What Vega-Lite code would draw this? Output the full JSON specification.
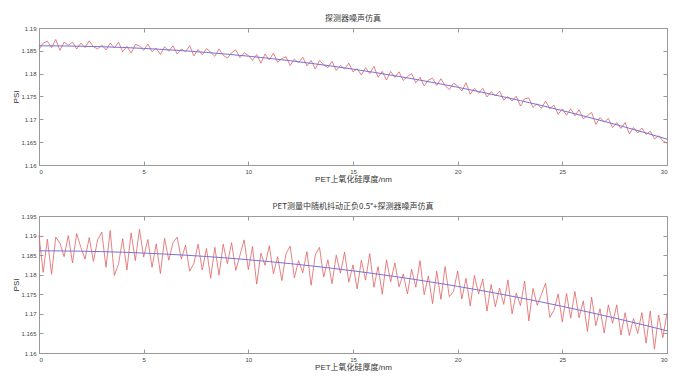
{
  "$schema": "https://vega.github.io/schema/vega-lite/v6.json",
  "padding": {"left": 12, "top": 14, "right": 15, "bottom": 2},
  "spacing": 18,
  "background": "white",
  "config": {
    "view": {"stroke": "#999999", "strokeWidth": 1},
    "axis": {"grid": false, "labelFontSize": 6, "labelColor": "#444444", "labelFont": "Liberation Sans", "titleFont": "Liberation Sans, Noto Sans CJK SC", "titleFontSize": 8, "titleFontWeight": "normal", "titleColor": "#333333", "domainColor": "#999999", "tickColor": "#999999", "tickSize": -4, "labelPadding": 7},
    "title": {"font": "Noto Sans CJK SC", "fontSize": 8, "fontWeight": "normal", "color": "#333333", "offset": 2}
  },
  "datasets": {
    "fit": [
      {"x": 0, "f": 1.1861}, {"x": 1, "f": 1.18608}, {"x": 2, "f": 1.18601}, {"x": 3, "f": 1.1859}, {"x": 4, "f": 1.18574},
      {"x": 5, "f": 1.18553}, {"x": 6, "f": 1.18528}, {"x": 7, "f": 1.18499}, {"x": 8, "f": 1.18465}, {"x": 9, "f": 1.18426},
      {"x": 10, "f": 1.18383}, {"x": 11, "f": 1.18335}, {"x": 12, "f": 1.18283}, {"x": 13, "f": 1.18226}, {"x": 14, "f": 1.18165},
      {"x": 15, "f": 1.18099}, {"x": 16, "f": 1.18029}, {"x": 17, "f": 1.17954}, {"x": 18, "f": 1.17875}, {"x": 19, "f": 1.17791},
      {"x": 20, "f": 1.17702}, {"x": 21, "f": 1.17609}, {"x": 22, "f": 1.17511}, {"x": 23, "f": 1.17409}, {"x": 24, "f": 1.17303},
      {"x": 25, "f": 1.17191}, {"x": 26, "f": 1.17075}, {"x": 27, "f": 1.16955}, {"x": 28, "f": 1.1683}, {"x": 29, "f": 1.16701},
      {"x": 30, "f": 1.16567}
    ],
    "noise": [
      {"x": 0, "a": 1.1853, "b": 1.1901}, {"x": 0.2, "a": 1.1867, "b": 1.1806}, {"x": 0.4, "a": 1.1871, "b": 1.1891}, {"x": 0.6, "a": 1.1857, "b": 1.1801}, {"x": 0.8, "a": 1.1875, "b": 1.1896},
      {"x": 1, "a": 1.1851, "b": 1.1881}, {"x": 1.2, "a": 1.1869, "b": 1.1846}, {"x": 1.4, "a": 1.1862, "b": 1.19}, {"x": 1.6, "a": 1.1869, "b": 1.183}, {"x": 1.8, "a": 1.1854, "b": 1.1905},
      {"x": 2, "a": 1.1867, "b": 1.187}, {"x": 2.2, "a": 1.1857, "b": 1.184}, {"x": 2.4, "a": 1.1872, "b": 1.1895}, {"x": 2.6, "a": 1.1859, "b": 1.1834}, {"x": 2.8, "a": 1.1854, "b": 1.1889},
      {"x": 3, "a": 1.1863, "b": 1.1909}, {"x": 3.2, "a": 1.1852, "b": 1.1819}, {"x": 3.4, "a": 1.1867, "b": 1.1913}, {"x": 3.6, "a": 1.1856, "b": 1.1798}, {"x": 3.8, "a": 1.1869, "b": 1.1828},
      {"x": 4, "a": 1.1848, "b": 1.1892}, {"x": 4.2, "a": 1.186, "b": 1.1812}, {"x": 4.4, "a": 1.1845, "b": 1.1907}, {"x": 4.6, "a": 1.1864, "b": 1.1836}, {"x": 4.8, "a": 1.1861, "b": 1.1916},
      {"x": 5, "a": 1.1851, "b": 1.1845}, {"x": 5.2, "a": 1.1865, "b": 1.189}, {"x": 5.4, "a": 1.1848, "b": 1.1819}, {"x": 5.6, "a": 1.1856, "b": 1.1879}, {"x": 5.8, "a": 1.1842, "b": 1.1803},
      {"x": 6, "a": 1.1859, "b": 1.1893}, {"x": 6.2, "a": 1.1849, "b": 1.1837}, {"x": 6.4, "a": 1.1861, "b": 1.1882}, {"x": 6.6, "a": 1.1843, "b": 1.1896}, {"x": 6.8, "a": 1.1854, "b": 1.184},
      {"x": 7, "a": 1.1848, "b": 1.1875}, {"x": 7.2, "a": 1.1861, "b": 1.1809}, {"x": 7.4, "a": 1.1839, "b": 1.1829}, {"x": 7.6, "a": 1.1853, "b": 1.1878}, {"x": 7.8, "a": 1.1841, "b": 1.1812},
      {"x": 8, "a": 1.1855, "b": 1.1867}, {"x": 8.2, "a": 1.1847, "b": 1.1791}, {"x": 8.4, "a": 1.1838, "b": 1.187}, {"x": 8.6, "a": 1.1854, "b": 1.1799}, {"x": 8.8, "a": 1.184, "b": 1.1878},
      {"x": 9, "a": 1.1834, "b": 1.1828}, {"x": 9.2, "a": 1.1846, "b": 1.1882}, {"x": 9.4, "a": 1.1852, "b": 1.1811}, {"x": 9.6, "a": 1.1835, "b": 1.185}, {"x": 9.8, "a": 1.1846, "b": 1.1889},
      {"x": 10, "a": 1.184, "b": 1.1813}, {"x": 10.2, "a": 1.1829, "b": 1.1872}, {"x": 10.4, "a": 1.1842, "b": 1.1776}, {"x": 10.6, "a": 1.1823, "b": 1.1855}, {"x": 10.8, "a": 1.1843, "b": 1.1824},
      {"x": 11, "a": 1.183, "b": 1.1874}, {"x": 11.2, "a": 1.1845, "b": 1.1802}, {"x": 11.4, "a": 1.1825, "b": 1.1846}, {"x": 11.6, "a": 1.1833, "b": 1.1785}, {"x": 11.8, "a": 1.1837, "b": 1.1854},
      {"x": 12, "a": 1.1818, "b": 1.1873}, {"x": 12.2, "a": 1.1832, "b": 1.1792}, {"x": 12.4, "a": 1.1824, "b": 1.1836}, {"x": 12.6, "a": 1.1836, "b": 1.1805}, {"x": 12.8, "a": 1.1817, "b": 1.1859},
      {"x": 13, "a": 1.1829, "b": 1.1773}, {"x": 13.2, "a": 1.181, "b": 1.1851}, {"x": 13.4, "a": 1.1829, "b": 1.187}, {"x": 13.6, "a": 1.182, "b": 1.1794}, {"x": 13.8, "a": 1.1813, "b": 1.1838},
      {"x": 14, "a": 1.1827, "b": 1.1777}, {"x": 14.2, "a": 1.1807, "b": 1.185}, {"x": 14.4, "a": 1.1818, "b": 1.1804}, {"x": 14.6, "a": 1.181, "b": 1.1858}, {"x": 14.8, "a": 1.1823, "b": 1.1781},
      {"x": 15, "a": 1.1804, "b": 1.1825}, {"x": 15.2, "a": 1.1811, "b": 1.1764}, {"x": 15.4, "a": 1.1797, "b": 1.1837}, {"x": 15.6, "a": 1.1813, "b": 1.1786}, {"x": 15.8, "a": 1.18, "b": 1.1854},
      {"x": 16, "a": 1.1816, "b": 1.1768}, {"x": 16.2, "a": 1.1792, "b": 1.1821}, {"x": 16.4, "a": 1.1805, "b": 1.175}, {"x": 16.6, "a": 1.1786, "b": 1.1838}, {"x": 16.8, "a": 1.1805, "b": 1.1782},
      {"x": 17, "a": 1.1792, "b": 1.183}, {"x": 17.2, "a": 1.1804, "b": 1.1769}, {"x": 17.4, "a": 1.1785, "b": 1.1802}, {"x": 17.6, "a": 1.1794, "b": 1.1751}, {"x": 17.8, "a": 1.18, "b": 1.1814},
      {"x": 18, "a": 1.178, "b": 1.1768}, {"x": 18.2, "a": 1.1792, "b": 1.1836}, {"x": 18.4, "a": 1.1773, "b": 1.1749}, {"x": 18.6, "a": 1.1786, "b": 1.1797}, {"x": 18.8, "a": 1.179, "b": 1.1726},
      {"x": 19, "a": 1.1774, "b": 1.1809}, {"x": 19.2, "a": 1.1789, "b": 1.1737}, {"x": 19.4, "a": 1.1774, "b": 1.1821}, {"x": 19.6, "a": 1.1765, "b": 1.1744}, {"x": 19.8, "a": 1.1779, "b": 1.1757},
      {"x": 20, "a": 1.1773, "b": 1.181}, {"x": 20.2, "a": 1.1762, "b": 1.1738}, {"x": 20.4, "a": 1.178, "b": 1.1791}, {"x": 20.6, "a": 1.1755, "b": 1.172}, {"x": 20.8, "a": 1.1768, "b": 1.1798},
      {"x": 21, "a": 1.1757, "b": 1.1751}, {"x": 21.2, "a": 1.1768, "b": 1.1789}, {"x": 21.4, "a": 1.1749, "b": 1.1707}, {"x": 21.6, "a": 1.1761, "b": 1.1775}, {"x": 21.8, "a": 1.1751, "b": 1.1718},
      {"x": 22, "a": 1.1762, "b": 1.1766}, {"x": 22.2, "a": 1.1742, "b": 1.1724}, {"x": 22.4, "a": 1.175, "b": 1.1787}, {"x": 22.6, "a": 1.174, "b": 1.17}, {"x": 22.8, "a": 1.1751, "b": 1.1753},
      {"x": 23, "a": 1.1729, "b": 1.1721}, {"x": 23.2, "a": 1.1745, "b": 1.1784}, {"x": 23.4, "a": 1.1747, "b": 1.1682}, {"x": 23.6, "a": 1.1726, "b": 1.1765}, {"x": 23.8, "a": 1.1734, "b": 1.1722},
      {"x": 24, "a": 1.1724, "b": 1.175}, {"x": 24.2, "a": 1.174, "b": 1.1778}, {"x": 24.4, "a": 1.1723, "b": 1.1691}, {"x": 24.6, "a": 1.1731, "b": 1.1709}, {"x": 24.8, "a": 1.1711, "b": 1.1751},
      {"x": 25, "a": 1.1723, "b": 1.1679}, {"x": 25.2, "a": 1.1709, "b": 1.1752}, {"x": 25.4, "a": 1.1723, "b": 1.1689}, {"x": 25.6, "a": 1.1708, "b": 1.1757}, {"x": 25.8, "a": 1.1721, "b": 1.169},
      {"x": 26, "a": 1.1701, "b": 1.1733}, {"x": 26.2, "a": 1.1708, "b": 1.1655}, {"x": 26.4, "a": 1.1715, "b": 1.1743}, {"x": 26.6, "a": 1.1689, "b": 1.167}, {"x": 26.8, "a": 1.1704, "b": 1.1713},
      {"x": 27, "a": 1.1694, "b": 1.1651}, {"x": 27.2, "a": 1.1702, "b": 1.1723}, {"x": 27.4, "a": 1.1682, "b": 1.1676}, {"x": 27.6, "a": 1.1693, "b": 1.1723}, {"x": 27.8, "a": 1.168, "b": 1.1646},
      {"x": 28, "a": 1.1693, "b": 1.1703}, {"x": 28.2, "a": 1.1668, "b": 1.1645}, {"x": 28.4, "a": 1.1682, "b": 1.1688}, {"x": 28.6, "a": 1.167, "b": 1.165}, {"x": 28.8, "a": 1.1681, "b": 1.1703},
      {"x": 29, "a": 1.1667, "b": 1.1625}, {"x": 29.2, "a": 1.1674, "b": 1.1707}, {"x": 29.4, "a": 1.1657, "b": 1.161}, {"x": 29.6, "a": 1.1664, "b": 1.1697}, {"x": 29.8, "a": 1.1653, "b": 1.1639},
      {"x": 30, "a": 1.1648, "b": 1.1702}
    ]
  },
  "vconcat": [
    {
      "title": {"text": "探测器噪声仿真"},
      "width": 628,
      "height": 137,
      "layer": [
        {
          "data": {"name": "noise"},
          "mark": {"type": "line", "color": "#e06262", "strokeWidth": 0.8},
          "encoding": {
            "x": {"field": "x", "type": "quantitative", "scale": {"domain": [0, 30], "nice": false}, "axis": {"title": "PET上氧化硅厚度/nm", "values": [0, 5, 10, 15, 20, 25, 30], "titlePadding": 1}},
            "y": {"field": "a", "type": "quantitative", "scale": {"domain": [1.16, 1.19], "nice": false}, "axis": {"title": "PSI", "values": [1.16, 1.165, 1.17, 1.175, 1.18, 1.185, 1.19], "format": "~r", "titlePadding": 0}}
          }
        },
        {
          "data": {"name": "fit"},
          "mark": {"type": "line", "color": "#7373d8", "strokeWidth": 1},
          "encoding": {
            "x": {"field": "x", "type": "quantitative", "axis": {"orient": "top", "labels": false, "title": null, "domain": false, "values": [0, 5, 10, 15, 20, 25, 30]}},
            "y": {"field": "f", "type": "quantitative", "axis": {"orient": "right", "labels": false, "title": null, "domain": false, "values": [1.16, 1.165, 1.17, 1.175, 1.18, 1.185, 1.19]}}
          }
        }
      ],
      "resolve": {"axis": {"x": "independent", "y": "independent"}}
    },
    {
      "title": {"text": "PET测量中随机抖动正负0.5°+探测器噪声仿真"},
      "width": 628,
      "height": 137,
      "layer": [
        {
          "data": {"name": "noise"},
          "mark": {"type": "line", "color": "#e06262", "strokeWidth": 0.8},
          "encoding": {
            "x": {"field": "x", "type": "quantitative", "scale": {"domain": [0, 30], "nice": false}, "axis": {"title": "PET上氧化硅厚度/nm", "values": [0, 5, 10, 15, 20, 25, 30], "titlePadding": 1}},
            "y": {"field": "b", "type": "quantitative", "scale": {"domain": [1.16, 1.195], "nice": false}, "axis": {"title": "PSI", "values": [1.16, 1.165, 1.17, 1.175, 1.18, 1.185, 1.19, 1.195], "format": "~r", "titlePadding": 0}}
          }
        },
        {
          "data": {"name": "fit"},
          "mark": {"type": "line", "color": "#7373d8", "strokeWidth": 1},
          "encoding": {
            "x": {"field": "x", "type": "quantitative", "axis": {"orient": "top", "labels": false, "title": null, "domain": false, "values": [0, 5, 10, 15, 20, 25, 30]}},
            "y": {"field": "f", "type": "quantitative", "axis": {"orient": "right", "labels": false, "title": null, "domain": false, "values": [1.16, 1.165, 1.17, 1.175, 1.18, 1.185, 1.19, 1.195]}}
          }
        }
      ],
      "resolve": {"axis": {"x": "independent", "y": "independent"}}
    }
  ]
}
